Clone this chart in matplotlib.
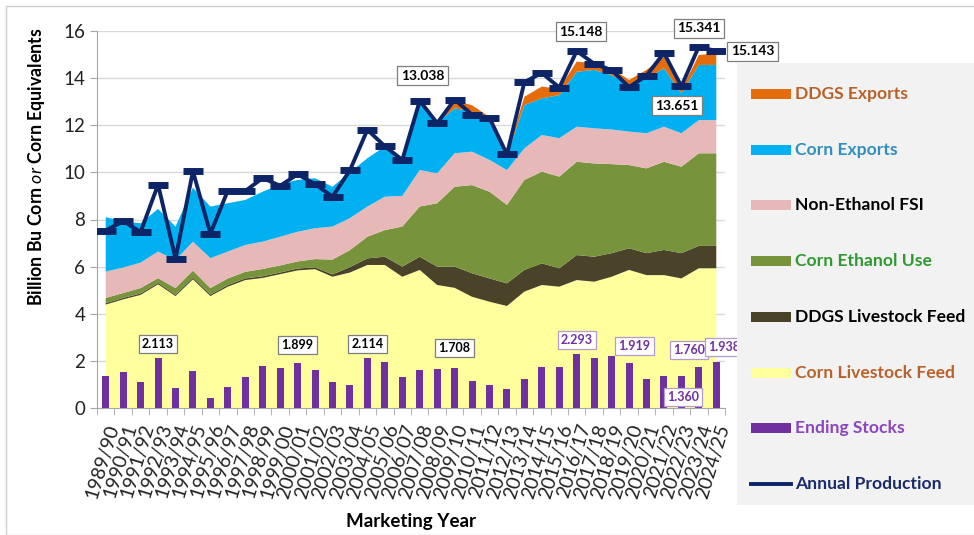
import matplotlib
matplotlib.use("Agg")
import matplotlib.pyplot as plt
import numpy as np
from matplotlib.patches import Rectangle

plt.rcParams['font.family'] = ['Lato', 'DejaVu Sans']
plt.rcParams['mathtext.fontset'] = 'custom'
plt.rcParams['mathtext.it'] = 'Lato:italic'
plt.rcParams['mathtext.rm'] = 'Lato:bold'

# marketing years
years = ["1989/90", "1990/91", "1991/92", "1992/93", "1993/94", "1994/95",
         "1995/96", "1996/97", "1997/98", "1998/99", "1999/00", "2000/01",
         "2001/02", "2002/03", "2003/04", "2004/05", "2005/06", "2006/07",
         "2007/08", "2008/09", "2009/10", "2010/11", "2011/12", "2012/13",
         "2013/14", "2014/15", "2015/16", "2016/17", "2017/18", "2018/19",
         "2019/20", "2020/21", "2021/22", "2022/23", "2023/24", "2024/25"]

# billion bushels (corn equivalents)
corn_feed = [4.39, 4.61, 4.80, 5.25, 4.75, 5.46, 4.75, 5.15, 5.43, 5.52, 5.68, 5.84,
             5.89, 5.57, 5.75, 6.07, 6.07, 5.57, 5.86, 5.22, 5.10, 4.72, 4.51, 4.33,
             4.94, 5.22, 5.15, 5.43, 5.36, 5.57, 5.86, 5.64, 5.64, 5.50, 5.93, 5.93]
ddgs_feed = [0.06, 0.06, 0.06, 0.06, 0.06, 0.07, 0.06, 0.07, 0.07, 0.07, 0.07, 0.08,
             0.08, 0.10, 0.23, 0.28, 0.35, 0.43, 0.56, 0.78, 0.90, 1.00, 0.99, 0.96,
             0.92, 0.92, 0.78, 1.06, 1.06, 1.00, 0.92, 0.93, 1.07, 1.07, 0.95, 0.95]
ethanol = [0.22, 0.21, 0.23, 0.20, 0.28, 0.30, 0.28, 0.28, 0.28, 0.31, 0.30, 0.30,
           0.35, 0.63, 0.72, 0.92, 1.13, 1.70, 2.13, 2.69, 3.39, 3.74, 3.68, 3.33,
           3.82, 3.89, 3.89, 3.96, 3.96, 3.78, 3.53, 3.60, 3.74, 3.67, 3.93, 3.93]
non_eth_fsi = [1.12, 1.08, 1.08, 1.13, 1.19, 1.23, 1.27, 1.14, 1.14, 1.16, 1.22, 1.26,
               1.31, 1.40, 1.36, 1.28, 1.42, 1.30, 1.55, 1.27, 1.42, 1.42, 1.35, 1.48,
               1.34, 1.56, 1.63, 1.49, 1.49, 1.47, 1.42, 1.49, 1.49, 1.42, 1.41, 1.41]
corn_exports = [2.31, 1.96, 1.67, 1.81, 1.42, 2.29, 2.19, 2.05, 1.91, 2.12, 2.23, 2.20,
                2.12, 1.69, 1.94, 2.05, 2.13, 1.60, 2.85, 2.14, 1.91, 1.70, 1.69, 0.60,
                1.84, 1.55, 1.83, 2.33, 2.48, 2.31, 1.98, 2.33, 2.48, 1.69, 2.34, 2.34]
ddgs_exports = [0, 0, 0, 0, 0, 0, 0, 0, 0, 0, 0, 0,
                0, 0, 0, 0, 0, 0, 0.05, 0.05, 0.33, 0.27, 0.13, 0.10,
                0.35, 0.50, 0.27, 0.43, 0.28, 0.29, 0.21, 0.36, 0.49, 0.15, 0.42, 0.49]
production = [7.53, 7.93, 7.47, 9.48, 6.34, 10.05, 7.40, 9.23, 9.21, 9.76, 9.43, 9.92,
              9.50, 8.97, 10.09, 11.81, 11.11, 10.53, 13.038, 12.09, 13.09, 12.45, 12.31, 10.76,
              13.83, 14.22, 13.60, 15.148, 14.61, 14.34, 13.62, 14.11, 15.07, 13.651, 15.341, 15.143]
ending_stocks = [1.344, 1.521, 1.100, 2.113, 0.850, 1.558, 0.426, 0.883, 1.308, 1.787, 1.718, 1.899,
                 1.596, 1.087, 0.958, 2.114, 1.967, 1.304, 1.624, 1.673, 1.708, 1.128, 0.989, 0.821,
                 1.232, 1.731, 1.737, 2.293, 2.140, 2.221, 1.919, 1.235, 1.377, 1.360, 1.760, 1.938]

legend_labels = ["DDGS Exports", "Corn Exports", "Non-Ethanol FSI", "Corn Ethanol Use",
                 "DDGS Livestock Feed", "Corn Livestock Feed", "Ending Stocks", "Annual Production"]

c_yellow = '#ffff9e'
c_brown = '#4a4229'
c_green = '#77933c'
c_pink = '#e6b9b8'
c_blue = '#00b0f0'
c_orange = '#e46c0a'
c_purple = '#7030a0'
c_navy = '#0d2466'

x = np.arange(len(years))

fig = plt.figure(figsize=(9.74, 5.35), dpi=100)
ax = fig.add_axes([97/974, 1-408/535, (725-97)/974, (408-31)/535])

ax.stackplot(x, corn_feed, ddgs_feed, ethanol, non_eth_fsi, corn_exports, ddgs_exports,
             colors=[c_yellow, c_brown, c_green, c_pink, c_blue, c_orange], lw=0, zorder=2)
ax.bar(x, ending_stocks, width=0.4, color=c_purple, zorder=3)
ax.plot(x, production, color=c_navy, lw=2.8, marker='_', ms=15, mew=5, zorder=5)

ax.set_xlim(-0.5, len(years) - 0.5)
ax.set_ylim(0, 16)
ax.set_yticks(range(0, 17, 2))
ax.grid(axis='y', color='#d9d9d9', lw=1, zorder=0)
ax.set_axisbelow(True)
for s in ['top', 'right']:
    ax.spines[s].set_visible(False)
for s in ['left', 'bottom']:
    ax.spines[s].set_color('#a6a6a6')
ax.tick_params(axis='y', labelsize=13.5, colors='#a6a6a6', labelcolor='#222222', length=5)
ax.set_xticks(x)
ax.set_xticklabels(years, rotation=73, ha='right', rotation_mode='anchor', fontsize=14,
                   color='#222222')
ax.tick_params(axis='x', length=0, pad=10)
ax.set_xticks(np.arange(-0.5, len(years)), minor=True)
ax.tick_params(axis='x', which='minor', length=5, color='#a6a6a6')

ax.set_ylabel(r"Billion Bu Corn $\mathit{or}$ Corn Equivalents", fontsize=12.8, fontweight='bold')
ax.yaxis.set_label_coords(-0.08, 0.64)
ax.set_xlabel("Marketing Year", fontsize=13.5, fontweight='bold', labelpad=9)

box_black = dict(boxstyle='square,pad=0.25', fc='white', ec='#7f7f7f', lw=0.9)
box_purple = dict(boxstyle='square,pad=0.25', fc='white', ec='#b49bd0', lw=0.9)

# production labels: (index, dx, dy in points)
for i, dx, dy in [(18, 2, 18), (27, 3, 14), (34, 0, 13), (33, -3, -14)]:
    ax.annotate(f"{production[i]:.3f}", (x[i], production[i]), xytext=(dx, dy),
                textcoords='offset points', ha='center', va='center', fontsize=10,
                fontweight='bold', bbox=box_black, zorder=6)
ax.annotate(f"{production[35]:.3f}", (x[35], production[35]), xytext=(26, 0),
            textcoords='offset points', ha='center', va='center', fontsize=10,
            fontweight='bold', bbox=box_black, zorder=6, annotation_clip=False)

# ending stock labels
for i, dx, dy, purple in [(3, 0, 10, False), (11, 0, 13, False), (15, 0, 10, False),
                          (20, 0, 14, False), (27, 0, 10, True), (30, 4, 12, True),
                          (34, -7, 12, True), (35, 6, 11, True), (33, 1, -15, True)]:
    ax.annotate(f"{ending_stocks[i]:.3f}", (x[i], ending_stocks[i]), xytext=(dx, dy),
                textcoords='offset points', ha='center', va='center', fontsize=9,
                fontweight='bold', color=c_purple if purple else 'black',
                bbox=box_purple if purple else box_black, zorder=6, annotation_clip=False)

# legend panel, drawn by hand to match the original layout
W, H = 974, 535
fig.patches.append(Rectangle((737/W, 1-505/H), (974-737)/W, (505-63)/H,
                             transform=fig.transFigure, fc='#f2f2f2', ec='none', zorder=0))
swatches = [c_orange, c_blue, c_pink, c_green, c_brown, c_yellow, c_purple, c_navy]
text_colors = ['#b8622a', '#2f8fbf', 'black', '#2e9930', 'black', '#b8622a', '#8b45c0', '#1a2b6d']
for k, (lab, sw, tc) in enumerate(zip(legend_labels, swatches, text_colors)):
    yc = 94 + 55.7 * k
    if k < 7:
        fig.patches.append(Rectangle((751/W, 1-(yc+5)/H), 40/W, 10/H,
                                     transform=fig.transFigure, fc=sw, ec='none'))
    else:
        fig.lines.append(plt.Line2D([751/W, 791/W], [1-yc/H, 1-yc/H],
                                    transform=fig.transFigure, color=sw, lw=2.8))
    fig.text(795/W, 1-yc/H, lab, color=tc, fontsize=12.6, fontweight='bold',
             ha='left', va='center')

fig.patches.append(Rectangle((6/W, 0), 1, 1-6/H, transform=fig.transFigure,
                             fill=False, ec='#d0d0d0', lw=1))

fig.savefig("out.png", dpi=100)
